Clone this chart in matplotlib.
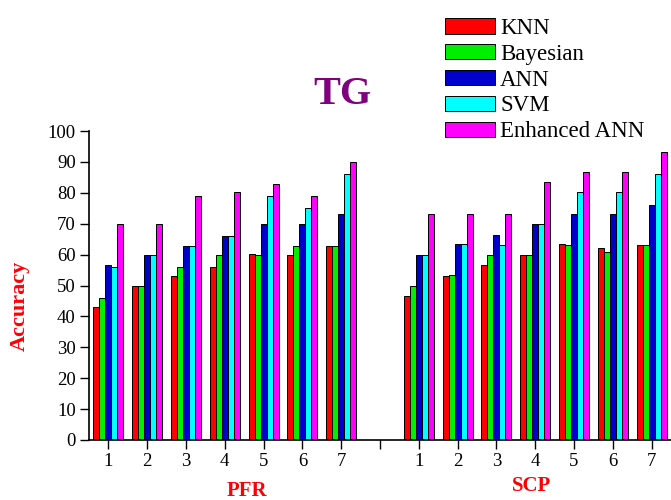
import numpy as np
import matplotlib
matplotlib.use("Agg")
import matplotlib.pyplot as plt

plt.rcParams['font.family'] = ['Liberation Serif', 'DejaVu Serif']

models = ["KNN", "Bayesian", "ANN", "SVM", "Enhanced ANN"]
colors = ["#FF0000", "#00EE00", "#0000CC", "#00FFFF", "#FF00FF"]
groups = ["1", "2", "3", "4", "5", "6", "7"]

# accuracy per model, PFR cases 1-7
pfr_knn = [43.2, 49.9, 53.0, 55.9, 60.2, 59.9, 62.9]
pfr_bayes = [45.8, 49.9, 55.9, 59.9, 59.9, 62.9, 62.9]
pfr_ann = [56.6, 59.9, 62.9, 65.9, 69.9, 69.9, 73.0]
pfr_svm = [56.0, 59.9, 62.9, 65.9, 79.0, 75.0, 86.0]
pfr_eann = [70.0, 70.0, 79.0, 80.1, 83.0, 79.0, 90.0]

# accuracy per model, SCP cases 1-7
scp_knn = [46.6, 53.0, 56.7, 59.9, 63.3, 62.0, 63.0]
scp_bayes = [49.9, 53.3, 59.9, 59.9, 63.0, 61.0, 63.0]
scp_ann = [59.9, 63.3, 66.2, 69.9, 73.1, 73.1, 76.1]
scp_svm = [59.9, 63.3, 63.0, 69.9, 80.1, 80.1, 86.0]
scp_eann = [73.2, 73.1, 73.1, 83.4, 86.7, 86.7, 93.2]

pfr = [pfr_knn, pfr_bayes, pfr_ann, pfr_svm, pfr_eann]
scp = [scp_knn, scp_bayes, scp_ann, scp_svm, scp_eann]

fig = plt.figure(figsize=(6.71, 5.0), dpi=100)
ax = fig.add_axes([89 / 671, 1 - 440 / 500, 1 - 89 / 671, (440 - 131) / 500])

x_pfr = np.arange(1, 8)
x_scp = np.arange(9, 16)
w = 0.155
for i, (name, c) in enumerate(zip(models, colors)):
    off = (i - 2) * w
    ax.bar(x_pfr + off, pfr[i], width=w, color=c, edgecolor="black", linewidth=0.7, label=name)
    ax.bar(x_scp + off, scp[i], width=w, color=c, edgecolor="black", linewidth=0.7)

ax.set_xlim(0.5, 15.5)
ax.set_ylim(0, 100)
ax.set_yticks(range(0, 101, 10))
ax.set_xticks(list(x_pfr) + [8] + list(x_scp))
ax.set_xticklabels(groups + [""] + groups)
ax.tick_params(axis="both", direction="out", length=6.5, width=1, labelsize=13.5, pad=3)
for s in ["top", "right"]:
    ax.spines[s].set_visible(False)
for s in ["left", "bottom"]:
    ax.spines[s].set_linewidth(1.2)

fig.text(342 / 671, 1 - 95 / 500, "TG", color="#800080", fontsize=29, fontweight="bold",
         ha="center", va="center")
fig.text(20 / 671, 1 - 306 / 500, "Accuracy", color="#FF0000", fontsize=16, fontweight="bold",
         rotation=90, ha="center", va="center")
fig.text(247 / 671, 1 - 491 / 500, "PFR", color="#FF0000", fontsize=15, fontweight="bold",
         ha="center", va="center")
fig.text(532 / 671, 1 - 486 / 500, "SCP", color="#FF0000", fontsize=15, fontweight="bold",
         ha="center", va="center")

fig.legend(loc="upper left", bbox_to_anchor=(445 / 671, 1 - 18 / 500), frameon=False,
           fontsize=16.5, handlelength=2.18, handleheight=0.65, labelspacing=0.21,
           handletextpad=0.22, borderpad=0, borderaxespad=0)

fig.savefig("out.png", dpi=100, facecolor="white")
